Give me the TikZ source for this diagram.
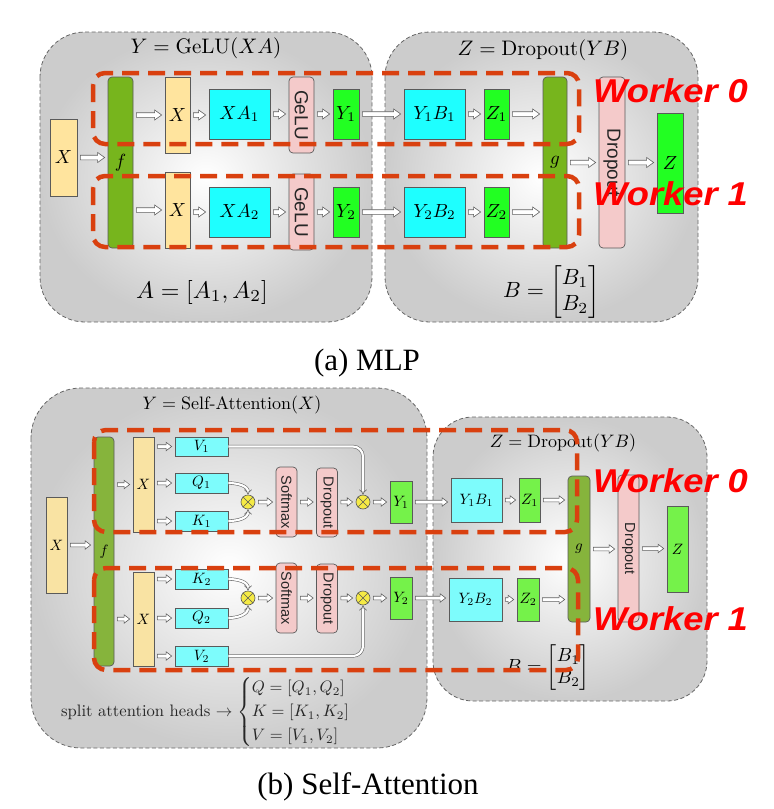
\documentclass[tikz,border=0pt]{standalone}
\usepackage{amsmath}
\usepackage{graphicx}
\usepackage{fontspec}
\newfontfamily\capfont{Liberation Serif}
\newfontfamily\helv{Liberation Sans}
\usetikzlibrary{arrows.meta,calc}
\newcommand{\tlab}[1]{\scalebox{1.9}{$#1$}}
\newcommand{\blab}[1]{\scalebox{1.5}{$#1$}}
\definecolor{bdr}{HTML}{5A5A5A}
\definecolor{arrgray}{HTML}{606060}
\definecolor{ty}{HTML}{FFE49E}
\definecolor{tc}{HTML}{1EFFFF}
\definecolor{tg}{HTML}{22FF22}
\definecolor{tf}{HTML}{77B51D}
\definecolor{pkc}{HTML}{F4CACA}
\definecolor{by}{HTML}{F9E3A3}
\definecolor{bc}{HTML}{7DFCFC}
\definecolor{bgr}{HTML}{75F24A}
\definecolor{bf}{HTML}{86B43C}
\definecolor{oy}{HTML}{F5EA45}
\definecolor{wred}{HTML}{D9400F}
\definecolor{wtxt}{HTML}{FF0000}
\tikzset{
  cont/.style={draw=black!60, dash pattern=on 4pt off 2.5pt, line width=0.8pt, shade, shading=radial, inner color=white, outer color=black!20},
  bx/.style={draw=bdr, line width=0.7pt, inner sep=0pt},
  rbx/.style={bx, rounded corners=4pt},
  tsf/.style={rotate=-90, font=\helv\fontsize{19}{22}\selectfont, text=black!85},
  bsf/.style={rotate=-90, font=\helv\fontsize{14.5}{17}\selectfont, text=black!85},
  blk/.style n args={3}{draw=arrgray, fill=white, line width=0.6pt,
    to path={let \p1=(\tikztostart), \p2=(\tikztotarget) in
      (\x1+3pt,\y1+#1) -- (\x2-3pt-#3,\y1+#1) -- (\x2-3pt-#3,\y1+#2) -- (\x2-3pt,\y1)
      -- (\x2-3pt-#3,\y1-#2) -- (\x2-3pt-#3,\y1-#1) -- (\x1+3pt,\y1-#1) -- cycle}},
  tarr/.style={blk={2.3pt}{5pt}{7pt}},
  barr/.style={blk={1.8pt}{4.2pt}{5.5pt}},
  dbl/.style={draw=arrgray, line width=0.55pt, double=white, double distance=2.2pt, -{Implies}},
  ot/.style={circle, draw=bdr, fill=oy, line width=0.6pt, minimum size=14pt, inner sep=0pt},
  wk/.style={draw=wred, line width=4.5pt, dash pattern=on 17pt off 9pt, rounded corners=12pt},
  wlab/.style={font=\helv\bfseries\itshape\fontsize{33}{38}\selectfont, text=wtxt, xscale=1.1, transform shape, inner sep=0pt},
  captxt/.style={font=\capfont\fontsize{31}{36}\selectfont},
  plain/.style={inner sep=0pt},
}
\begin{document}
\begin{tikzpicture}[x=1pt,y=-1pt]
\useasboundingbox (0,0) rectangle (774,809);
% ================= (a) MLP =================
\path[cont, rounded corners=45pt] (40,32) rectangle (372,322);
\path[cont, rounded corners=45pt] (385,32) rectangle (698,322);
\node[plain] (t1) at (206,48) {\scalebox{2.1}{$Y=\mathrm{GeLU}(XA)$}};
\node[plain] (t2) at (543,50) {\scalebox{2.1}{$Z=\mathrm{Dropout}(YB)$}};
\node[plain] (Aeq) at (202,292) {\scalebox{2.4}{$A=[A_1,A_2]$}};
\node[plain] (Beq) at (551.5,292) {\scalebox{2.2}{$B=\begin{bmatrix}B_1\\B_2\end{bmatrix}$}};

\node[bx,fill=ty,minimum width=27pt,minimum height=77pt] (X0) at (63.5,157.5) {\tlab{X}};
\node[rbx,fill=tf,minimum width=25pt,minimum height=171pt] (f) at (120.5,162.5) {\tlab{f}};
% upper row
\node[bx,fill=ty,minimum width=25pt,minimum height=76pt] (X1) at (177.5,115) {\tlab{X}};
\node[bx,fill=tc,minimum width=61pt,minimum height=50pt] (XA1) at (239.5,114) {\tlab{XA_1}};
\node[rbx,fill=pkc,minimum width=25pt,minimum height=76pt] (G1) at (301.5,115) {};
\node[tsf] (G1t) at (G1) {GeLU};
\node[bx,fill=tg,minimum width=26pt,minimum height=50pt] (Y1) at (346,114) {\tlab{Y_1}};
\node[bx,fill=tc,minimum width=61pt,minimum height=50pt] (YB1) at (434.5,114) {\tlab{Y_1B_1}};
\node[bx,fill=tg,minimum width=25pt,minimum height=50pt] (Z1) at (496.5,114) {\tlab{Z_1}};
% lower row
\node[bx,fill=ty,minimum width=25pt,minimum height=76pt] (X2) at (177.5,210) {\tlab{X}};
\node[bx,fill=tc,minimum width=61pt,minimum height=50pt] (XA2) at (239.5,212) {\tlab{XA_2}};
\node[rbx,fill=pkc,minimum width=25pt,minimum height=76pt] (G2) at (301.5,212) {};
\node[tsf] (G2t) at (G2) {GeLU};
\node[bx,fill=tg,minimum width=26pt,minimum height=50pt] (Y2) at (346,212) {\tlab{Y_2}};
\node[bx,fill=tc,minimum width=61pt,minimum height=50pt] (YB2) at (434.5,212) {\tlab{Y_2B_2}};
\node[bx,fill=tg,minimum width=25pt,minimum height=50pt] (Z2) at (496.5,212) {\tlab{Z_2}};

\node[rbx,fill=tf,minimum width=24pt,minimum height=171pt] (g) at (555,162.5) {\tlab{g}};
\node[rbx,fill=pkc,minimum width=26pt,minimum height=171pt] (D) at (612,162.5) {};
\node[tsf] (Dt) at (D) {Dropout};
\node[bx,fill=tg,minimum width=26pt,minimum height=100pt] (Z) at (670,163) {\tlab{Z}};

\path[tarr] (X0.east) to (f.west);
\path[tarr] (f.east |- X1) to (X1.west);
\path[tarr] (X1.east) to (XA1.west);
\path[tarr] (XA1.east) to (G1.west);
\path[tarr] (G1.east |- XA1) to (Y1.west);
\path[tarr] (Y1.east) to (YB1.west);
\path[tarr] (YB1.east) to (Z1.west);
\path[tarr] (Z1.east) to (g.west |- Z1);
\path[tarr] (f.east |- X2) to (X2.west);
\path[tarr] (X2.east |- XA2) to (XA2.west);
\path[tarr] (XA2.east) to (G2.west);
\path[tarr] (G2.east) to (Y2.west);
\path[tarr] (Y2.east) to (YB2.west);
\path[tarr] (YB2.east) to (Z2.west);
\path[tarr] (Z2.east) to (g.west |- Z2);
\path[tarr] (g.east) to (D.west);
\path[tarr] (D.east) to (Z.west);

\draw[wk] (93,73) rectangle (579,144);
\draw[wk] (93,176) rectangle (579,247);
\node[wlab, anchor=base west] (w0a) at (593,102) {Worker 0};
\node[wlab, anchor=base west] (w1a) at (593,205) {Worker 1};
\node[captxt] (capa) at (367,363) {(a) MLP};

% ================= (b) Self-Attention =================
\path[cont, rounded corners=50pt] (31,388) rectangle (427,748);
\path[cont, rounded corners=40pt] (433,417) rectangle (707,701);
\node[plain] (t3) at (232,405) {\scalebox{1.8}{$Y=\text{Self-Attention}(X)$}};
\node[plain] (t4) at (563,443) {\scalebox{1.8}{$Z=\mathrm{Dropout}(YB)$}};

\node[bx,fill=by,minimum width=21pt,minimum height=96pt] (bX0) at (56.5,545) {\blab{X}};
\node[rbx,fill=bf,minimum width=20pt,minimum height=229pt] (bf) at (104,551.5) {\blab{f}};
\node[bx,fill=by,minimum width=21pt,minimum height=95pt] (bX1) at (143.5,484.5) {\blab{X}};
\node[bx,fill=by,minimum width=21pt,minimum height=94pt] (bX2) at (143.5,619) {\blab{X}};
% upper head
\node[bx,fill=bc,minimum width=53pt,minimum height=19pt] (V1) at (201.5,446.5) {\blab{V_1}};
\node[bx,fill=bc,minimum width=53pt,minimum height=20pt] (Q1) at (201.5,483) {\blab{Q_1}};
\node[bx,fill=bc,minimum width=53pt,minimum height=20pt] (K1) at (201.5,521) {\blab{K_1}};
\node[ot] (o1) at (248,502) {};
\node[rbx,fill=pkc,minimum width=21pt,minimum height=70pt] (S1) at (286.5,502) {};
\node[bsf] (S1t) at (S1) {Softmax};
\node[rbx,fill=pkc,minimum width=21pt,minimum height=69pt] (DD1) at (327,502.5) {};
\node[bsf] (DD1t) at (DD1) {Dropout};
\node[ot] (o2) at (363,502) {};
\node[bx,fill=bgr,minimum width=22pt,minimum height=42pt] (bY1) at (401,502) {\blab{Y_1}};
\node[bx,fill=bc,minimum width=51pt,minimum height=44pt] (bYB1) at (476.5,500) {\blab{Y_1B_1}};
\node[bx,fill=bgr,minimum width=21pt,minimum height=44pt] (bZ1) at (529.5,500) {\blab{Z_1}};
% lower head
\node[bx,fill=bc,minimum width=53pt,minimum height=20pt] (K2) at (201.5,579) {\blab{K_2}};
\node[bx,fill=bc,minimum width=53pt,minimum height=20pt] (Q2) at (201.5,618) {\blab{Q_2}};
\node[bx,fill=bc,minimum width=53pt,minimum height=20pt] (V2) at (201.5,656) {\blab{V_2}};
\node[ot] (o3) at (248,598) {};
\node[rbx,fill=pkc,minimum width=21pt,minimum height=70pt] (S2) at (286.5,598) {};
\node[bsf] (S2t) at (S2) {Softmax};
\node[rbx,fill=pkc,minimum width=21pt,minimum height=69pt] (DD2) at (327,598.5) {};
\node[bsf] (DD2t) at (DD2) {Dropout};
\node[ot] (o4) at (363,598) {};
\node[bx,fill=bgr,minimum width=22pt,minimum height=42pt] (bY2) at (401,598) {\blab{Y_2}};
\node[bx,fill=bc,minimum width=53pt,minimum height=43pt] (bYB2) at (475.5,599.5) {\blab{Y_2B_2}};
\node[bx,fill=bgr,minimum width=22pt,minimum height=43pt] (bZ2) at (528,599.5) {\blab{Z_2}};

\node[rbx,fill=bf,minimum width=22pt,minimum height=146pt] (bg) at (579,549) {\blab{g}};
\node[rbx,fill=pkc,minimum width=21pt,minimum height=147pt] (bD) at (628.5,548.5) {};
\node[bsf] (bDt) at (bD) {Dropout};
\node[bx,fill=bgr,minimum width=21pt,minimum height=86pt] (bZ) at (677.5,549) {\blab{Z}};

\foreach \o in {o1,o2,o3,o4}{
  \draw[bdr, line width=0.6pt] (\o.north east) -- (\o.south west) (\o.north west) -- (\o.south east);
}

\path[barr] (bX0.east) to (bf.west);
\path[barr] (bf.east |- bX1) to (bX1.west);
\path[barr] (bf.east |- bX2) to (bX2.west);
\path[barr] (bX1.east |- V1) to (V1.west);
\path[barr] (bX1.east |- Q1) to (Q1.west);
\path[barr] (bX1.east |- K1) to (K1.west);
\path[barr] (bX2.east |- K2) to (K2.west);
\path[barr] (bX2.east |- Q2) to (Q2.west);
\path[barr] (bX2.east |- V2) to (V2.west);
\draw[dbl] (Q1.east) to[out=0,in=90] (o1.north);
\draw[dbl] (K1.east) to[out=0,in=-90] (o1.south);
\draw[dbl, rounded corners=10pt] (V1.east) -| (o2.north);
\draw[dbl] (K2.east) to[out=0,in=90] (o3.north);
\draw[dbl] (Q2.east) to[out=0,in=-90] (o3.south);
\draw[dbl, rounded corners=10pt] (V2.east) -| (o4.south);
\path[barr] (o1.east) to (S1.west);
\path[barr] (S1.east |- o1) to (DD1.west);
\path[barr] (DD1.east |- o2) to (o2.west);
\path[barr] (o2.east) to (bY1.west);
\path[barr] (bY1.east) to (bYB1.west);
\path[barr] (bYB1.east) to (bZ1.west);
\path[barr] (bZ1.east) to (bg.west |- bZ1);
\path[barr] (o3.east) to (S2.west);
\path[barr] (S2.east |- o3) to (DD2.west);
\path[barr] (DD2.east |- o4) to (o4.west);
\path[barr] (o4.east) to (bY2.west);
\path[barr] (bY2.east) to (bYB2.west);
\path[barr] (bYB2.east) to (bZ2.west);
\path[barr] (bZ2.east) to (bg.west |- bZ2);
\path[barr] (bg.east) to (bD.west);
\path[barr] (bD.east) to (bZ.west);

\node[plain, anchor=west, text=black!85] (split) at (61,712)
  {\scalebox{1.66}{split attention heads $\rightarrow\begin{cases}Q=[Q_1,Q_2]\\K=[K_1,K_2]\\V=[V_1,V_2]\end{cases}$}};
\node[plain] (bBeq) at (548,668) {\scalebox{1.9}{$B=\begin{bmatrix}B_1\\B_2\end{bmatrix}$}};

\draw[wk] (94,430) rectangle (577,532);
\draw[wk] (94,568) rectangle (578,670);
\node[wlab, anchor=base west] (w0b) at (593,492) {Worker 0};
\node[wlab, anchor=base west] (w1b) at (593,630) {Worker 1};
\node[captxt] (capb) at (368,787) {(b) Self-Attention};
\end{tikzpicture}
\end{document}
